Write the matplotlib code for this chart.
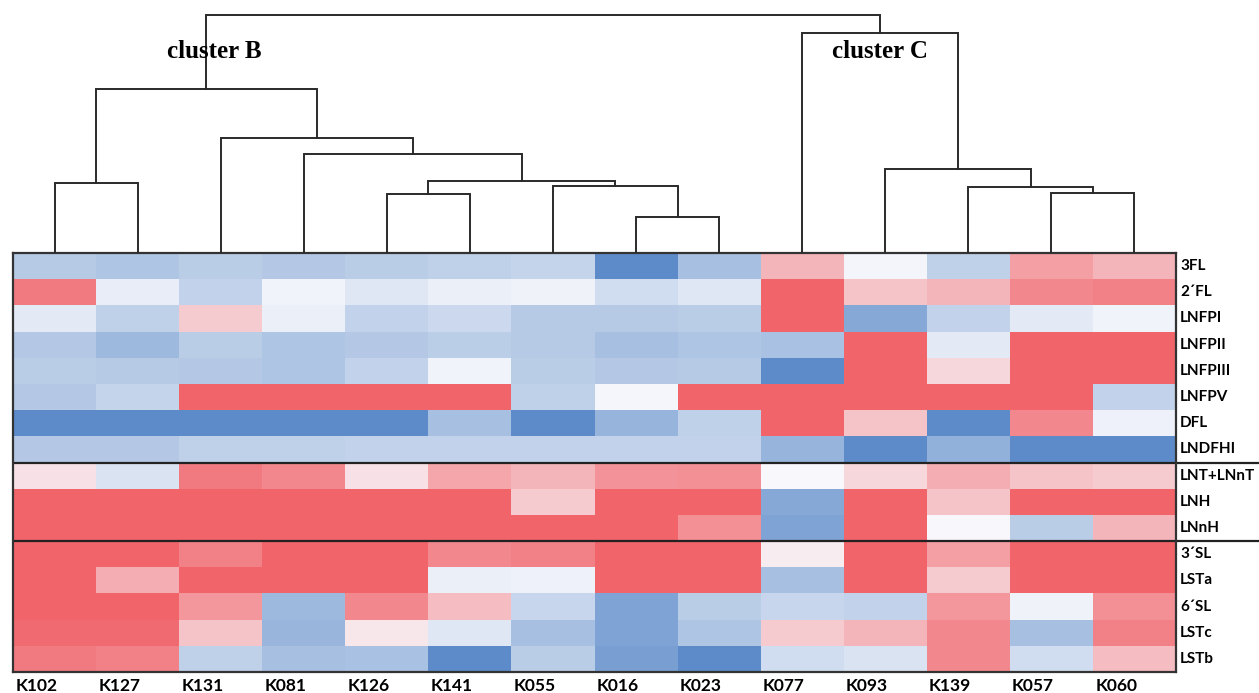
import numpy as np
import matplotlib
matplotlib.use('Agg')
import matplotlib.pyplot as plt
from matplotlib.colors import LinearSegmentedColormap

# ---------------- data ----------------
samples = ['K102', 'K127', 'K131', 'K081', 'K126', 'K141', 'K055',
           'K016', 'K023', 'K077', 'K093', 'K139', 'K057', 'K060']
hmos = ['3FL', '2´FL', 'LNFPI', 'LNFPII', 'LNFPIII', 'LNFPV', 'DFL', 'LNDFHI',
        'LNT+LNnT', 'LNH', 'LNnH', '3´SL', 'LSTa', '6´SL', 'LSTc', 'LSTb']

# scaled abundance (-1 = lowest / blue, +1 = highest / red), one list per HMO
v_3FL      = [-0.40, -0.45, -0.38, -0.42, -0.38, -0.35, -0.32, -0.95, -0.50, 0.45, -0.03, -0.35, 0.60, 0.45]
v_2FL      = [0.85, -0.10, -0.33, -0.04, -0.15, -0.08, -0.05, -0.25, -0.15, 1.00, 0.35, 0.45, 0.75, 0.80]
v_LNFPI    = [-0.12, -0.35, 0.30, -0.08, -0.33, -0.28, -0.40, -0.40, -0.38, 1.00, -0.70, -0.33, -0.12, -0.04]
v_LNFPII   = [-0.42, -0.55, -0.38, -0.45, -0.42, -0.37, -0.40, -0.50, -0.45, -0.48, 1.00, -0.12, 1.00, 1.00]
v_LNFPIII  = [-0.38, -0.40, -0.42, -0.45, -0.33, -0.04, -0.38, -0.42, -0.40, -0.95, 1.00, 0.22, 1.00, 1.00]
v_LNFPV    = [-0.42, -0.32, 1.00, 1.00, 1.00, 1.00, -0.35, -0.02, 1.00, 1.00, 1.00, 1.00, 1.00, -0.33]
v_DFL      = [-0.95, -0.95, -0.95, -0.95, -0.95, -0.50, -0.95, -0.60, -0.35, 1.00, 0.35, -0.95, 0.75, -0.06]
v_LNDFHI   = [-0.42, -0.42, -0.35, -0.35, -0.33, -0.33, -0.33, -0.33, -0.33, -0.60, -0.95, -0.62, -0.95, -0.95]
v_LNT      = [0.15, -0.18, 0.85, 0.75, 0.15, 0.55, 0.45, 0.68, 0.70, 0.00, 0.22, 0.50, 0.35, 0.30]
v_LNH      = [1.00, 1.00, 1.00, 1.00, 1.00, 1.00, 0.30, 1.00, 1.00, -0.70, 1.00, 0.35, 1.00, 1.00]
v_LNnH     = [1.00, 1.00, 1.00, 1.00, 1.00, 1.00, 1.00, 1.00, 0.70, -0.75, 1.00, 0.00, -0.38, 0.45]
v_3SL      = [1.00, 1.00, 0.80, 1.00, 1.00, 0.75, 0.80, 1.00, 1.00, 0.08, 1.00, 0.60, 1.00, 1.00]
v_LSTa     = [1.00, 0.50, 1.00, 1.00, 1.00, -0.08, -0.06, 1.00, 1.00, -0.50, 1.00, 0.30, 1.00, 1.00]
v_6SL      = [1.00, 1.00, 0.65, -0.55, 0.75, 0.40, -0.30, -0.75, -0.38, -0.30, -0.33, 0.65, -0.05, 0.70]
v_LSTc     = [0.95, 0.95, 0.35, -0.58, 0.12, -0.15, -0.50, -0.75, -0.45, 0.30, 0.45, 0.75, -0.50, 0.80]
v_LSTb     = [0.85, 0.80, -0.35, -0.50, -0.48, -0.95, -0.38, -0.78, -0.95, -0.25, -0.18, 0.75, -0.25, 0.40]

# group separators (row index after which a line is drawn)
group_breaks = [8, 11]

# dendrogram linkage (leaf indices follow the sample order above)
merge_left   = [7, 4, 12, 11, 6, 0, 15, 10, 3, 2, 19, 9, 24]
merge_right  = [8, 5, 13, 16, 14, 1, 18, 17, 20, 22, 23, 21, 25]
merge_height = [36, 59, 60, 66, 67, 70, 72, 84, 99, 115, 164, 220.5, 238]

cluster_names = ['cluster B', 'cluster C']
cluster_x = [2.42, 10.44]

# ---------------- figure ----------------
data = np.array([v_3FL, v_2FL, v_LNFPI, v_LNFPII, v_LNFPIII, v_LNFPV, v_DFL, v_LNDFHI,
                 v_LNT, v_LNH, v_LNnH, v_3SL, v_LSTa, v_6SL, v_LSTc, v_LSTb])

W, H = 1259, 693
fig = plt.figure(figsize=(W / 100, H / 100), dpi=100)
fig.patch.set_facecolor('white')

hx0, hx1 = 13, 1176
hy0, hy1 = 253, 672

cmap = LinearSegmentedColormap.from_list(
    'bwr_custom', ['#5586c6', '#f8f8fc', '#f0646a'])

ax = fig.add_axes([hx0 / W, 1 - hy1 / H, (hx1 - hx0) / W, (hy1 - hy0) / H])
nrow, ncol = data.shape
ax.pcolormesh(np.arange(ncol + 1), np.arange(nrow + 1), data, cmap=cmap,
              vmin=-1, vmax=1, shading='flat')
ax.set_xlim(0, ncol)
ax.set_ylim(nrow, 0)
ax.set_xticks([])
ax.set_yticks([])
for s in ax.spines.values():
    s.set_color('#333333')
    s.set_linewidth(1.6)

# group separators extending to the right edge
for b in group_breaks:
    ax.plot([0, ncol + 1.2], [b, b], color='#222222', lw=1.6, clip_on=False,
            solid_capstyle='butt')

row_font = dict(family=['Liberation Sans Narrow', 'Lato', 'DejaVu Sans'],
                weight='bold', size=11)
col_font = dict(family=['Liberation Sans Narrow', 'Lato', 'DejaVu Sans'],
                weight='bold', size=12.5)
for i, name in enumerate(hmos):
    ax.text(ncol + 0.05, i + 0.5, name, ha='left', va='center', **row_font)
for j, name in enumerate(samples):
    ax.text(j + 0.5 - 0.22, nrow + 0.54, name, ha='center', va='center', **col_font)

# ---------------- dendrogram ----------------
dax = fig.add_axes([hx0 / W, 1 - hy0 / H, (hx1 - hx0) / W, hy0 / H])
dax.set_xlim(0, ncol)
dax.set_ylim(0, hy0)
dax.axis('off')

pos = {i: (i + 0.5, 0.0) for i in range(ncol)}
node = ncol
for l, r, h in zip(merge_left, merge_right, merge_height):
    xl, yl = pos[l]
    xr, yr = pos[r]
    dax.plot([xl, xl, xr, xr], [yl, h, h, yr], color='#2a2a2a', lw=1.4,
             solid_joinstyle='miter')
    pos[node] = ((xl + xr) / 2, h)
    node += 1

for name, x in zip(cluster_names, cluster_x):
    dax.text(x, hy0 - 52, name, ha='center', va='center',
             family=['Liberation Serif', 'DejaVu Serif'], weight='bold', size=18)

fig.savefig('out.png', dpi=100, facecolor='white')
